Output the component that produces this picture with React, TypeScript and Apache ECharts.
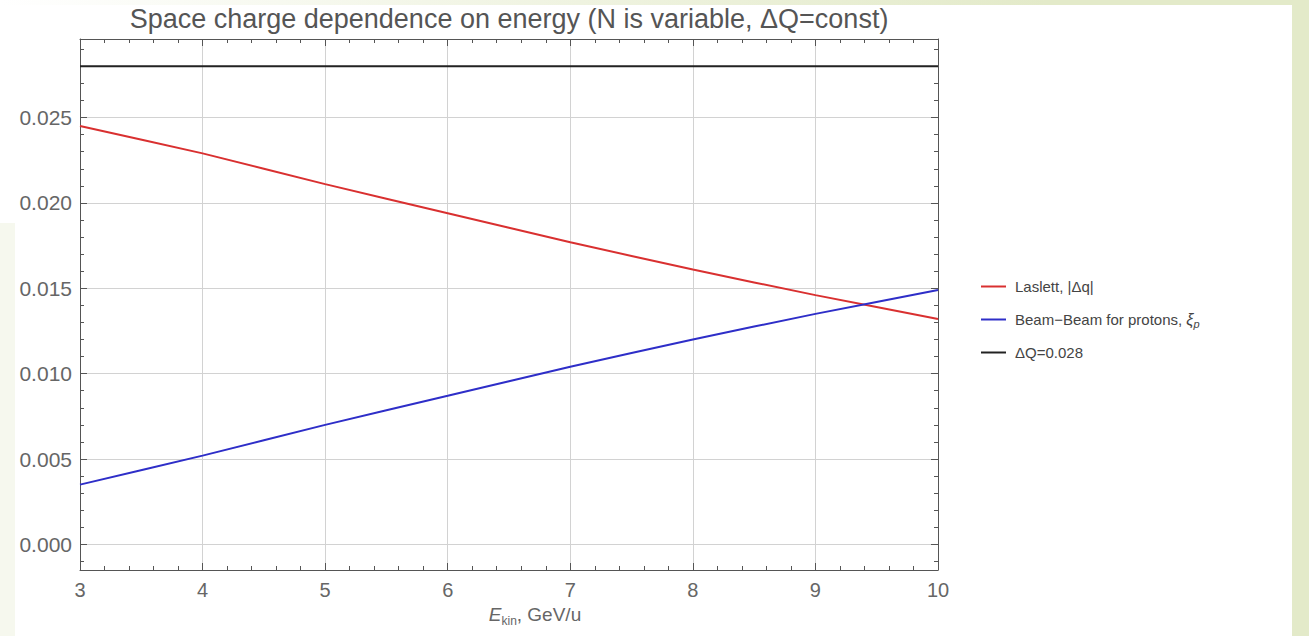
import React, { useEffect, useRef } from "react";
import * as echarts from "echarts";

const energies = [3, 4, 5, 6, 7, 8, 9, 10];
const laslett = [0.0245, 0.0229, 0.0211, 0.0194, 0.0177, 0.0161, 0.0146, 0.0132];
const beamBeam = [0.0035, 0.0052, 0.007, 0.0087, 0.0104, 0.012, 0.0135, 0.0149];
const deltaQ = [0.028, 0.028, 0.028, 0.028, 0.028, 0.028, 0.028, 0.028];

const seriesNames = ["Laslett, |Δq|", "Beam−Beam for protons, ξp", "ΔQ=0.028"];
const seriesColors = ["#d93030", "#2e2ec8", "#222222"];

const yMajorTicks = [0, 0.005, 0.01, 0.015, 0.02, 0.025];
const Y_MIN = -0.0015;
const Y_MAX = 0.0296;
const X_MIN = 3;
const X_MAX = 10;

const yMinorTicks: number[] = [];
for (let k = -1; k <= 29; k++) {
  if (k % 5 !== 0) yMinorTicks.push(Number((k * 0.001).toFixed(4)));
}

const FONT = "'Liberation Sans', Arial, sans-serif";
const AXIS_COLOR = "#555";
const LABEL_COLOR = "#666";
const GRID_COLOR = "#d2d2d2";

export default function App() {
  const ref = useRef<HTMLDivElement>(null);

  useEffect(() => {
    if (!ref.current) return;
    const chart = echarts.init(ref.current, undefined, { renderer: "svg" });

    const xBase = (position: "bottom" | "top", main: boolean) => ({
      type: "value",
      position,
      min: X_MIN,
      max: X_MAX,
      interval: 1,
      axisLine: { show: true, onZero: false, lineStyle: { color: AXIS_COLOR, width: 1 } },
      axisTick: { show: true, inside: true, length: 7, lineStyle: { color: AXIS_COLOR } },
      minorTick: { show: true, splitNumber: 5, length: 4, lineStyle: { color: AXIS_COLOR } },
      axisLabel: {
        show: main,
        color: LABEL_COLOR,
        fontSize: 20,
        fontFamily: FONT,
        margin: 10,
      },
      splitLine: { show: main, lineStyle: { color: GRID_COLOR, width: 1 } },
      minorSplitLine: { show: false },
    });

    const yMajor = (position: "left" | "right", main: boolean) => ({
      type: "value",
      position,
      min: Y_MIN,
      max: Y_MAX,
      splitNumber: 5,
      axisLine: { show: true, onZero: false, lineStyle: { color: AXIS_COLOR, width: 1 } },
      axisTick: {
        show: true,
        inside: true,
        length: 7,
        customValues: yMajorTicks,
        lineStyle: { color: AXIS_COLOR },
      },
      axisLabel: {
        show: main,
        customValues: yMajorTicks,
        formatter: (v: number) => v.toFixed(3),
        color: LABEL_COLOR,
        fontSize: 21,
        fontFamily: FONT,
        margin: 8,
      },
      splitLine: { show: main, lineStyle: { color: GRID_COLOR, width: 1 } },
    });

    const yMinor = (position: "left" | "right") => ({
      type: "value",
      position,
      min: Y_MIN,
      max: Y_MAX,
      axisLine: { show: false, onZero: false },
      axisTick: {
        show: true,
        inside: true,
        length: 4,
        customValues: yMinorTicks,
        lineStyle: { color: AXIS_COLOR },
      },
      axisLabel: { show: false },
      splitLine: { show: false },
    });

    const xAxisMain: any = xBase("bottom", true);
    xAxisMain.name = "{e|E}{k|kin}{n|, GeV/u}";
    xAxisMain.nameLocation = "middle";
    xAxisMain.nameGap = 29;
    xAxisMain.nameTextStyle = {
      color: LABEL_COLOR,
      fontFamily: FONT,
      fontSize: 19,
      padding: [0, 0, 0, 52],
      rich: {
        e: { fontStyle: "italic", fontSize: 19, lineHeight: 26, color: LABEL_COLOR, fontFamily: FONT },
        k: { fontSize: 12, verticalAlign: "bottom", color: LABEL_COLOR, fontFamily: FONT },
        n: { fontSize: 19, lineHeight: 26, color: LABEL_COLOR, fontFamily: FONT },
      },
    };

    const makeSeries = (i: number, values: number[]) => ({
      name: seriesNames[i],
      type: "line",
      xAxisIndex: 0,
      yAxisIndex: 0,
      data: energies.map((e, j) => [e, values[j]]),
      showSymbol: false,
      smooth: 0.2,
      color: seriesColors[i],
      lineStyle: { color: seriesColors[i], width: 2 },
      z: 5,
    });

    chart.setOption({
      animation: false,
      backgroundColor: "#ffffff",
      grid: { left: 80, right: 371, top: 39, bottom: 66, containLabel: false },
      xAxis: [xAxisMain, xBase("top", false)],
      yAxis: [yMajor("left", true), yMinor("left"), yMajor("right", false), yMinor("right")],
      legend: {
        orient: "vertical",
        left: 976,
        top: 272,
        icon: "rect",
        itemWidth: 25,
        itemHeight: 2,
        itemGap: 14,
        data: seriesNames,
        selectedMode: false,
        formatter: (name: string) =>
          name === seriesNames[1] ? "Beam−Beam for protons, {i|ξ}{s|p}" : name,
        textStyle: {
          color: "#444",
          fontSize: 15,
          fontFamily: FONT,
          lineHeight: 19,
          padding: [0, 0, 0, 4],
          rich: {
            i: { fontStyle: "italic", fontSize: 16, color: "#444", fontFamily: FONT, lineHeight: 19 },
            s: { fontStyle: "italic", fontSize: 11, color: "#444", fontFamily: FONT, verticalAlign: "bottom" },
          },
        },
      },
      graphic: [
        {
          type: "rect",
          z: -10,
          silent: true,
          shape: { x: 1292, y: 0, width: 17, height: 636 },
          style: { fill: "#e3eac9" },
        },
        {
          type: "rect",
          z: -10,
          silent: true,
          shape: { x: 0, y: 0, width: 1309, height: 5 },
          style: {
            fill: new echarts.graphic.LinearGradient(0, 0, 1, 0, [
              { offset: 0, color: "rgba(227,234,201,0)" },
              { offset: 0.3, color: "rgba(227,234,201,0.4)" },
              { offset: 0.8, color: "rgba(227,234,201,1)" },
              { offset: 1, color: "rgba(227,234,201,1)" },
            ]),
          },
        },
        {
          type: "rect",
          z: -10,
          silent: true,
          shape: { x: 0, y: 223, width: 15, height: 413 },
          style: { fill: "#f6f8ee" },
        },
        {
          type: "text",
          x: 509,
          y: 19,
          style: {
            text: "Space charge dependence on energy (N is variable, ΔQ=const)",
            fill: "#555",
            font: `27px ${FONT}`,
            textAlign: "center",
            textVerticalAlign: "middle",
          },
        },
      ],
      series: [makeSeries(0, laslett), makeSeries(1, beamBeam), makeSeries(2, deltaQ)],
    });

    return () => chart.dispose();
  }, []);

  return (
    <div
      ref={ref}
      style={{ position: "absolute", left: 0, top: 0, width: 1309, height: 636 }}
    />
  );
}
